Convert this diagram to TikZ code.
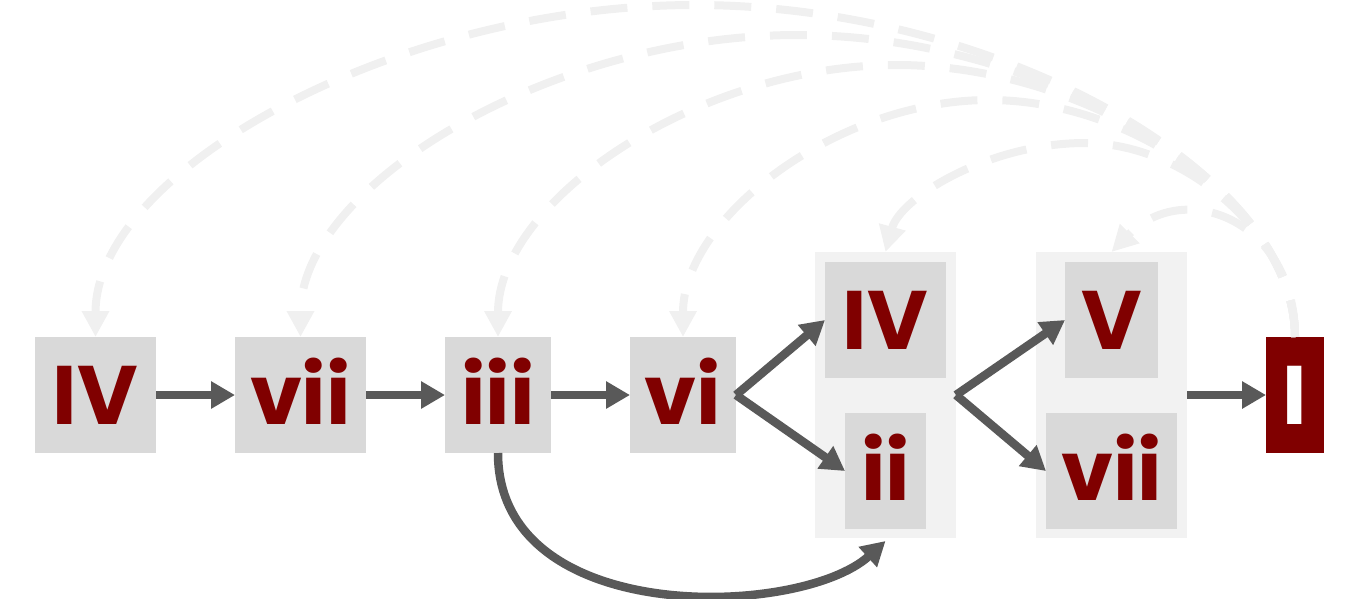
\documentclass[tikz,border=0pt]{standalone}
\usepackage{fontspec}
\setmainfont{Poppins}
\usetikzlibrary{arrows.meta}
\definecolor{nodegray}{HTML}{D9D9D9}
\definecolor{clustergray}{HTML}{F2F2F2}
\definecolor{darkred}{HTML}{800000}
\definecolor{arrowgray}{HTML}{595959}
\definecolor{dashgray}{HTML}{F0F0F0}
\begin{document}
\begin{tikzpicture}[x=1pt,y=-1pt,
  chord/.style={fill=nodegray, text=darkred, inner sep=0pt, outer sep=0pt,
    font=\fontsize{83}{83}\selectfont\bfseries, text height=58pt, text depth=0pt,
    minimum height=116pt},
  tonic/.style={chord, fill=darkred, text=white},
  cluster/.style={fill=clustergray, inner sep=0pt, outer sep=0pt, minimum height=286pt},
  flow/.style={draw=arrowgray, line width=8.5pt, -{Triangle[length=24pt,width=26pt]}},
  back/.style={draw=dashgray, line width=8pt, dash pattern=on 37pt off 25pt,
    -{Triangle[length=26pt,width=26pt]}}]
\useasboundingbox (0,0) rectangle (1359,598);

% cluster backgrounds
\node[cluster, minimum width=141pt] (c1) at (885.5,395) {};
\node[cluster, minimum width=151pt] (c2) at (1111.5,395) {};

% chord nodes
\node[chord, minimum width=121pt] (iv1) at (95.5,395) {IV};
\node[chord, minimum width=131pt] (vii1) at (300.5,395) {vii};
\node[chord, minimum width=106pt] (iii) at (498,395) {iii};
\node[chord, minimum width=106pt] (vi) at (683,395) {vi};
\node[chord, minimum width=121pt] (iv2) at (885.5,320) {IV};
\node[chord, minimum width=81pt] (ii) at (885.5,471) {ii};
\node[chord, minimum width=93pt] (v) at (1111.5,320) {V};
\node[chord, minimum width=131pt] (vii2) at (1111.5,471) {vii};
\node[tonic, minimum width=58pt] (I) at (1295,395) {I};

% peaks of the return arcs
\coordinate (p1) at (695,5);
\coordinate (p2) at (797.75,35);
\coordinate (p3) at (896.5,65);
\coordinate (p4) at (989,100);
\coordinate (p5) at (1085,143);

% dashed return arcs
\draw[back] (I.north) .. controls +(0,-166) and +(300,0) .. (p1)
  .. controls +(-300,0) and +(0,-166) .. (iv1.north);
\draw[back] (I.north) .. controls +(0,-151) and +(248.6,0) .. (p2)
  .. controls +(-248.6,0) and +(0,-151) .. (vii1.north);
\draw[back] (I.north) .. controls +(0,-136) and +(199,0) .. (p3)
  .. controls +(-199,0) and +(0,-136) .. (iii.north);
\draw[back] (I.north) .. controls +(0,-118.5) and +(153,0) .. (p4)
  .. controls +(-153,0) and +(0,-118.5) .. (vi.north);
\draw[back] (I.north) .. controls +(0,-97) and +(105,0) .. (p5)
  .. controls +(-95,0) and +(15,-55) .. (c1.north);
\draw[back] (I.north) .. controls +(0,-117) and +(73,-74) .. (c2.north);

% forward arrows
\draw[flow] (iv1) -- (vii1);
\draw[flow] (vii1) -- (iii);
\draw[flow] (iii) -- (vi);
\draw[flow] (vi.east) -- (iv2.west);
\draw[flow] (vi.east) -- (ii.west);
\draw[flow] (c1.east) -- (v.west);
\draw[flow] (c1.east) -- (vii2.west);
\draw[flow] (c2.east) -- (I.west);
\draw[flow] (iii.south) .. controls +(0,175) and +(-85,77) .. ([yshift=-3pt]c1.south);
\end{tikzpicture}
\end{document}
